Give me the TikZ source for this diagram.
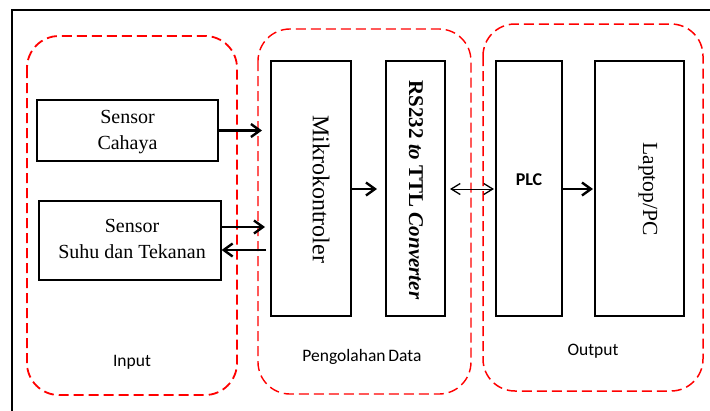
\documentclass[tikz,border=0pt]{standalone}
\usepackage{fontspec}
\setmainfont{Liberation Serif}
\newfontfamily\carlitofont{Carlito}
\usetikzlibrary{arrows.meta}
\begin{document}
\begin{tikzpicture}[x=1pt,y=-1pt,
  grp/.style={draw=red,line width=1.8pt,dash pattern=on 10pt off 5pt,rounded corners=32pt},
  blk/.style={draw=black,line width=1.2pt,inner sep=0pt},
  thk/.style={line width=2.4pt,-{Straight Barb[length=9pt,width=13pt,line width=2.4pt]}},
  thin/.style={line width=1pt,{Straight Barb[length=9pt,width=11pt,line width=1.3pt]}-{Straight Barb[length=9pt,width=11pt,line width=1.3pt]}},
  rm/.style={font=\fontsize{20}{26}\selectfont,align=center},
  lbl/.style={font=\carlitofont\fontsize{17.5}{20}\selectfont}]
\useasboundingbox (0,0) rectangle (710,410);
\clip (0,0) rectangle (710,410);
\fill[white] (0,0) rectangle (710,410);
\draw[line width=2pt] (12,430) -- (12,10) -- (730,10);
% groups
\draw[grp] (27,36) rectangle (237,395);
\draw[grp,line width=1.4pt] (258,29) rectangle (471,394);
\draw[grp,line width=1.5pt] (483,24) rectangle (703,391);
% blocks
\node[blk,minimum width=181pt,minimum height=61pt] (cah) at (127.5,130.5) {};
\node[rm] (cahT) at (127.5,132) {Sensor\\Cahaya};
\node[blk,minimum width=182pt,minimum height=79pt] (suhu) at (130,240.5) {};
\node[rm] (suhuT) at (132,239) {Sensor\\Suhu dan Tekanan};
\node[blk,minimum width=80pt,minimum height=255pt] (mik) at (311,188.5) {};
\node[font=\fontsize{24}{28}\selectfont,rotate=-90] (mikT) at (321,189) {Mikrokontroler};
\node[blk,minimum width=59pt,minimum height=255pt] (rs) at (415.5,188.5) {};
\node[font=\bfseries\fontsize{21}{24}\selectfont,rotate=-90] (rsT) at (416,190) {RS232 \textit{to} TTL \textit{Converter}};
\node[blk,minimum width=66pt,minimum height=255pt] (plc) at (529,188.5) {};
\node[font=\carlitofont\bfseries\fontsize{18}{20}\selectfont] (plcT) at (529,180) {PLC};
\node[blk,minimum width=89pt,minimum height=255pt] (lap) at (639.5,188.5) {};
\node[font=\fontsize{21.5}{24}\selectfont,rotate=-90] (lapT) at (648,189) {Laptop/PC};
% labels
\node[lbl] (inp) at (132,362) {Input};
\node[lbl] (peng) at (362,357) {Pengolahan\,Data};
\node[lbl] (out) at (593,351) {Output};
% coordinates
\coordinate (a1) at (262,130.5);
\coordinate (a2) at (265,227);
\coordinate (a3) at (266,250);
\coordinate (a4) at (377,189);
\coordinate (d1) at (450,189);
\coordinate (d2) at (494,189);
\coordinate (a5) at (593,189);
% arrows
\draw[thk] (cah.east |- a1) -- (a1);
\draw[thk] (suhu.east |- a2) -- (a2);
\draw[thk] (a3) -- (suhu.east |- a3);
\draw[thk] (mik.east |- a4) -- (a4);
\draw[thin] (d1) -- (d2);
\draw[thk] (plc.east |- a5) -- (a5);
\end{tikzpicture}
\end{document}
